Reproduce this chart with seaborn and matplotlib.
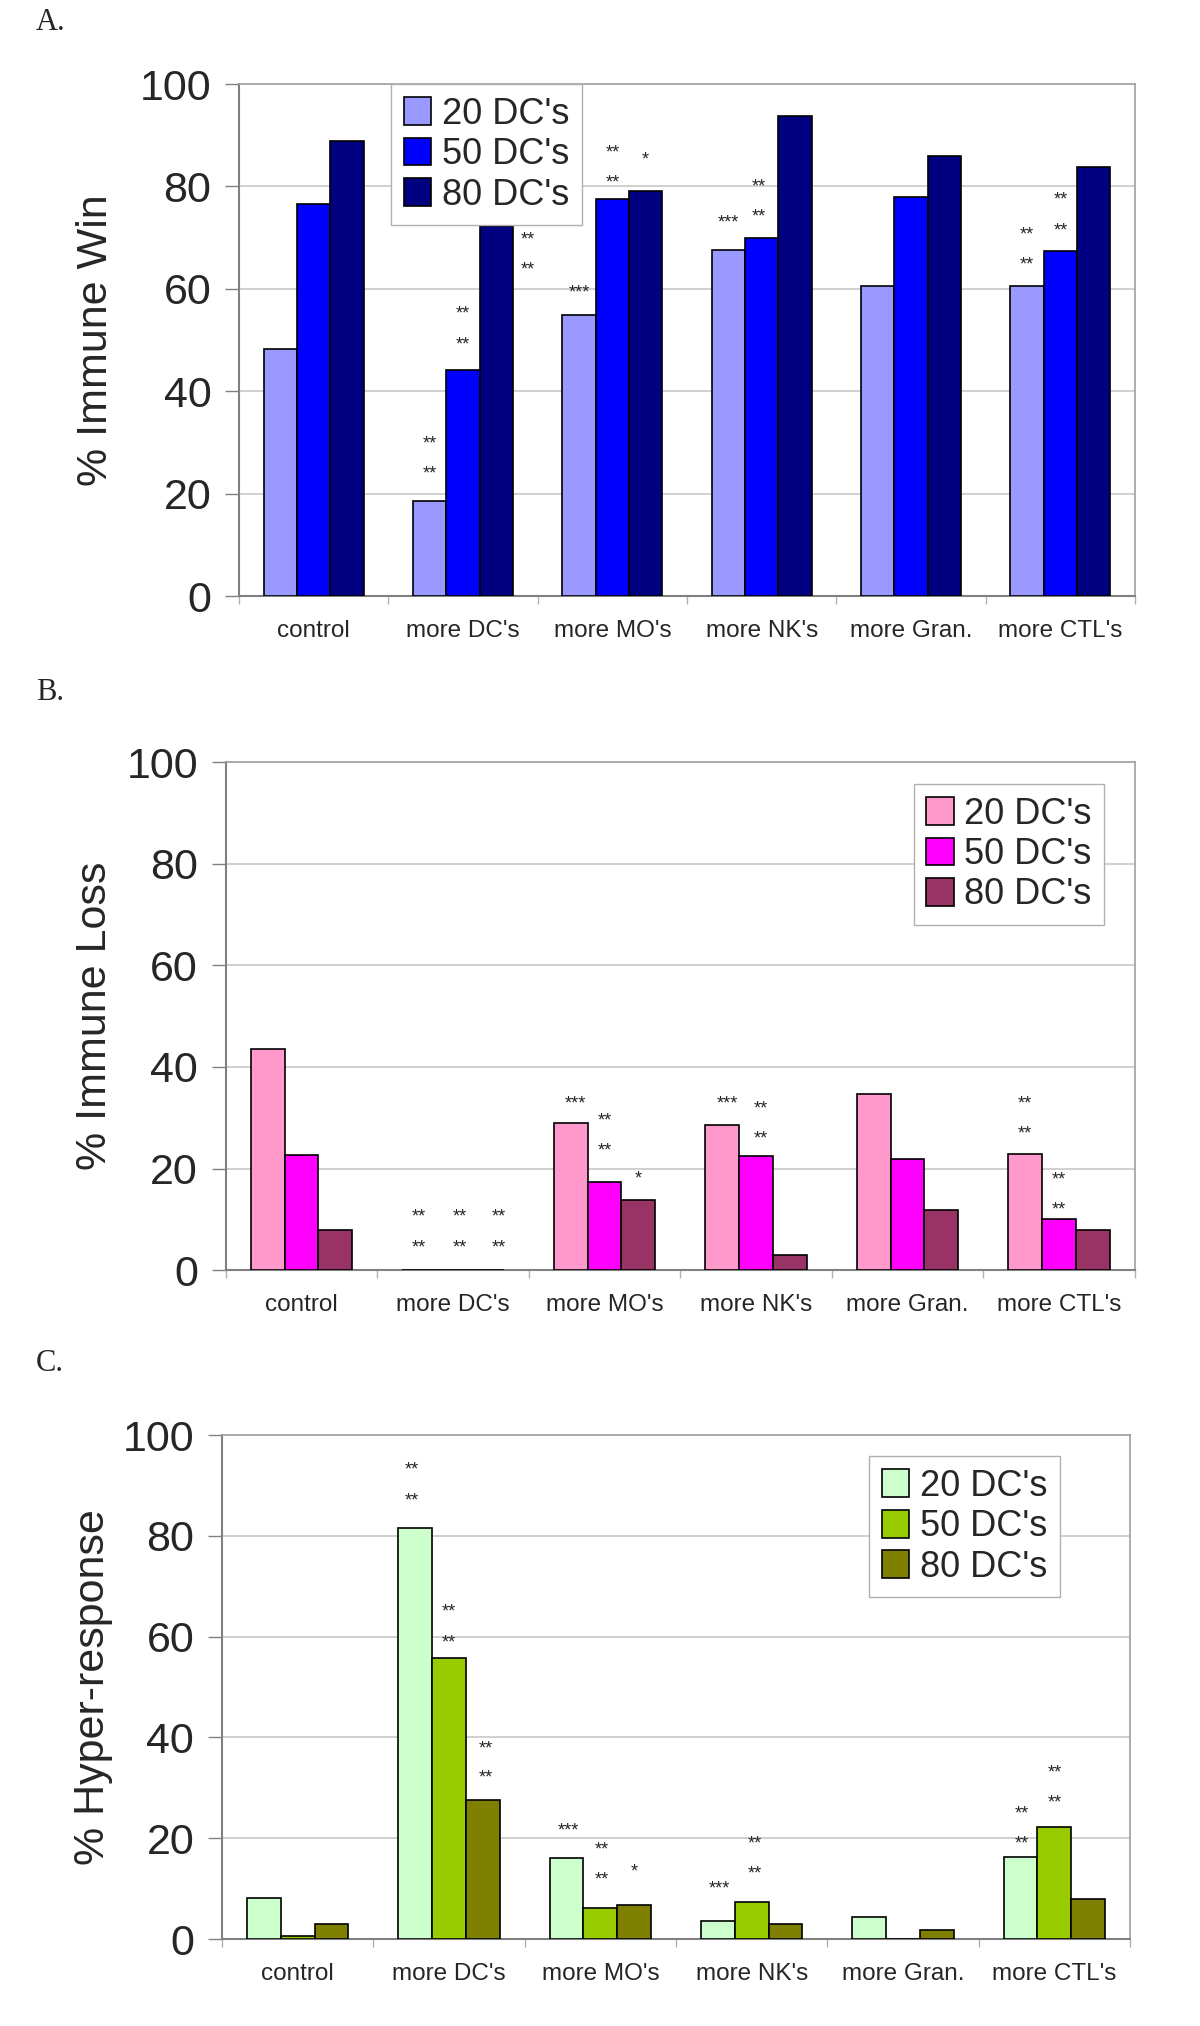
import pandas as pd
import seaborn as sns
import matplotlib.pyplot as plt

sns.set_style('white')
plt.rcParams['font.family'] = ['Liberation Sans', 'DejaVu Sans']

# DATA
groups = ["control", "more DC's", "more MO's", "more NK's", "more Gran.", "more CTL's"]
series = ["20 DC's", "50 DC's", "80 DC's"]

win_20 = [48.2, 18.5, 54.9, 67.5, 60.6, 60.6]
win_50 = [76.6, 44.2, 77.5, 70.0, 78.0, 67.3]
win_80 = [88.9, 72.3, 79.2, 93.8, 86.0, 83.9]

loss_20 = [43.6, 0.0, 28.9, 28.6, 34.7, 22.8]
loss_50 = [22.7, 0.0, 17.3, 22.5, 21.9, 10.1]
loss_80 = [7.8, 0.0, 13.8, 3.0, 11.9, 7.9]

hyper_20 = [8.1, 81.6, 16.0, 3.6, 4.3, 16.2]
hyper_50 = [0.6, 55.7, 6.1, 7.4, 0.0, 22.3]
hyper_80 = [3.0, 27.6, 6.8, 3.0, 1.8, 7.9]

# significance marks: (group index, x offset in bar widths, y value, text)
win_marks = [(1, -1, 29.7, '**'), (1, -1, 23.8, '**'),
             (1, 0, 55.0, '**'), (1, 0, 49.0, '**'),
             (1, 1.95, 69.6, '**'), (1, 1.95, 63.7, '**'),
             (2, -1, 59.1, '***'),
             (2, 0, 86.5, '**'), (2, 0, 80.6, '**'),
             (2, 1, 85.2, '*'),
             (3, -1, 72.8, '***'),
             (3, -0.1, 79.9, '**'), (3, -0.1, 74.0, '**'),
             (5, -1, 70.5, '**'), (5, -1, 64.6, '**'),
             (5, 0, 77.3, '**'), (5, 0, 71.4, '**')]

loss_marks = [(1, -1, 10.4, '**'), (1, -1, 4.4, '**'),
              (1, 0.2, 10.4, '**'), (1, 0.2, 4.4, '**'),
              (1, 1.35, 10.4, '**'), (1, 1.35, 4.4, '**'),
              (2, -0.85, 32.7, '***'),
              (2, 0, 29.3, '**'), (2, 0, 23.5, '**'),
              (2, 1, 18.0, '*'),
              (3, -0.85, 32.7, '***'),
              (3, 0.15, 31.7, '**'), (3, 0.15, 25.8, '**'),
              (5, -1, 32.7, '**'), (5, -1, 26.8, '**'),
              (5, 0, 17.8, '**'), (5, 0, 11.9, '**')]

hyper_marks = [(1, -1.1, 93.1, '**'), (1, -1.1, 87.0, '**'),
               (1, 0, 64.8, '**'), (1, 0, 58.8, '**'),
               (1, 1.1, 37.7, '**'), (1, 1.1, 31.9, '**'),
               (2, -0.95, 21.5, '***'),
               (2, 0.05, 17.7, '**'), (2, 0.05, 11.8, '**'),
               (2, 1, 13.3, '*'),
               (3, -0.95, 9.9, '***'),
               (3, 0.1, 18.9, '**'), (3, 0.1, 12.9, '**'),
               (5, -0.95, 24.8, '**'), (5, -0.95, 18.9, '**'),
               (5, 0, 32.9, '**'), (5, 0, 27.0, '**')]

win_colors = ['#9999FF', '#0000FF', '#000080']
loss_colors = ['#FF99CC', '#FF00FF', '#993366']
hyper_colors = ['#CCFFCC', '#99CC00', '#808000']


def long_df(v20, v50, v80):
    rows = []
    for s, vals in zip(series, [v20, v50, v80]):
        for g, v in zip(groups, vals):
            rows.append({'group': g, 'series': s, 'value': v})
    return pd.DataFrame(rows)


BAR_W = 0.67 / 3


def draw_panel(fig, rect, df, colors, ylabel, marks, letter, letter_y, leg_anchor, lpad):
    ax = fig.add_axes(rect)
    sns.barplot(data=df, x='group', y='value', hue='series', palette=colors,
                saturation=1, width=0.67, errorbar=None, edgecolor='black',
                linewidth=1.2, ax=ax, zorder=3)
    ax.set_ylim(0, 100)
    ax.set_xlim(-0.5, len(groups) - 0.5)
    ax.set_yticks(range(0, 101, 20))
    ax.tick_params(axis='y', labelsize=31, length=10, width=1, color='#808080',
                   direction='out', left=True, pad=10)
    ax.set_xticks(range(len(groups)))
    ax.set_xticklabels(groups, fontsize=17.5)
    ax.tick_params(axis='x', length=0, pad=17)
    ax.set_xticks([i - 0.5 for i in range(len(groups) + 1)], minor=True)
    ax.tick_params(axis='x', which='minor', length=6, width=1, color='#b0b0b0',
                   direction='out', bottom=True)
    ax.set_xlabel('')
    ax.set_ylabel(ylabel, fontsize=31, labelpad=lpad)
    ax.yaxis.grid(True, color='#c8c8c8', linewidth=1.2, zorder=0)
    ax.set_axisbelow(True)
    for side in ['top', 'right']:
        ax.spines[side].set_color('#a0a0a0')
        ax.spines[side].set_linewidth(1.2)
    for side in ['left', 'bottom']:
        ax.spines[side].set_color('#808080')
        ax.spines[side].set_linewidth(1.5)

    for gi, off, y, txt in marks:
        ax.text(gi + off * BAR_W, y, txt, ha='center', va='center',
                fontsize=13, zorder=5)

    leg = ax.legend(loc='upper left', bbox_to_anchor=leg_anchor, fontsize=26,
                    frameon=True, fancybox=False, framealpha=1,
                    edgecolor='#b0b0b0', handlelength=0.75, handleheight=0.8,
                    handletextpad=0.3, labelspacing=0.15, borderpad=0.35,
                    borderaxespad=0)
    leg.get_frame().set_linewidth(1)
    for h in leg.legend_handles:
        h.set_edgecolor('black')

    fig.text(0.03, letter_y, letter, fontsize=22, family='Liberation Serif',
             va='center', ha='left')
    return ax


fig = plt.figure(figsize=(12, 20.26), dpi=100)

draw_panel(fig, [0.1992, 0.7058, 0.7467, 0.2527], long_df(win_20, win_50, win_80),
           win_colors, '% Immune Win', win_marks, 'A.', 0.989, (0.170, 1.0), 17)
draw_panel(fig, [0.1881, 0.3731, 0.7575, 0.2507], long_df(loss_20, loss_50, loss_80),
           loss_colors, '% Immune Loss', loss_marks, 'B.', 0.658, (0.757, 0.957), 8)
draw_panel(fig, [0.185, 0.0429, 0.7567, 0.2488], long_df(hyper_20, hyper_50, hyper_80),
           hyper_colors, '% Hyper-response', hyper_marks, 'C.', 0.327, (0.713, 0.958), 7)

fig.savefig('out.png', dpi=100, facecolor='white')
